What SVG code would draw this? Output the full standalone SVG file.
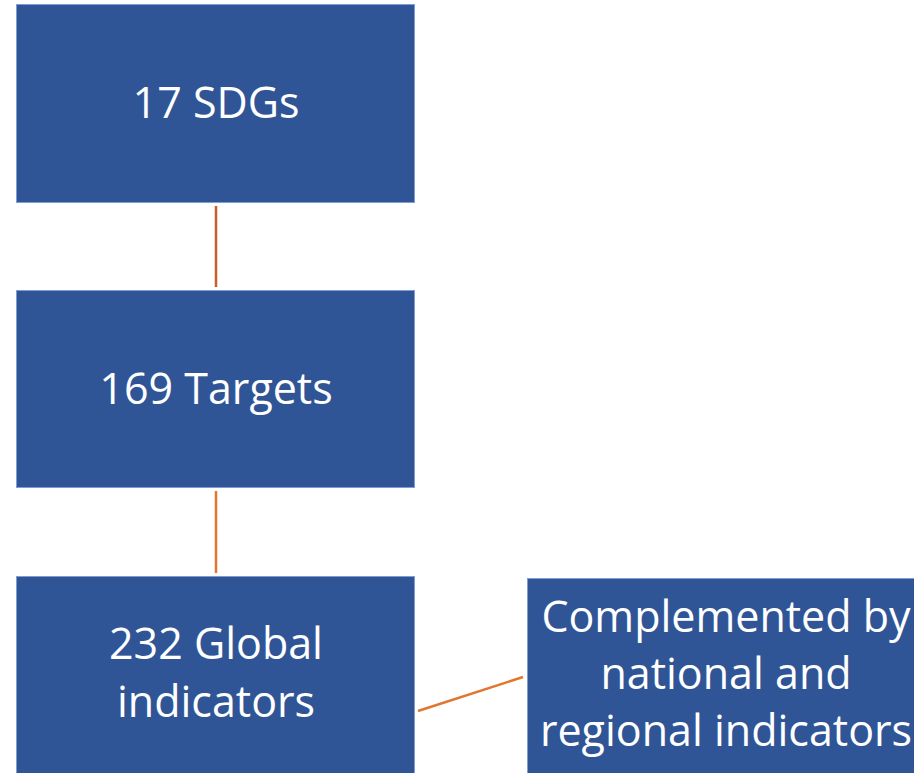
<svg xmlns="http://www.w3.org/2000/svg" width="914" height="773" viewBox="0 0 914 773">
<style>
.box{fill:#2F5597;stroke:#7F9CD3;stroke-width:1}
.t{font-family:"Open Sans","Liberation Sans",sans-serif;font-size:43px;fill:#FFFFFF;text-anchor:middle}
.c{stroke:#D2691E;stroke-width:2.5;fill:none}
</style>
<rect width="914" height="773" fill="#FFFFFF"/>
<g id="connectors">
<line class="c" x1="216" y1="206" x2="216" y2="287" style="stroke:#C55F27"/>
<line class="c" x1="216" y1="491" x2="216" y2="573" style="stroke:#E2762F"/>
<line class="c" x1="418" y1="711" x2="523" y2="677" style="stroke:#E2762F"/>
</g>
<g id="sdgs">
<rect class="box" x="16.5" y="4.5" width="398" height="198"/>
<text class="t" x="216" y="118">17 SDGs</text>
</g>
<g id="targets">
<rect class="box" x="16.5" y="290.5" width="398" height="197"/>
<text class="t" x="216" y="404">169 Targets</text>
</g>
<g id="global">
<rect class="box" x="16.5" y="576.5" width="398" height="200"/>
<text class="t" x="216" y="659">232 Global</text>
<text class="t" x="216" y="717">indicators</text>
</g>
<g id="complemented">
<rect class="box" x="527.5" y="578.5" width="400" height="200"/>
<text class="t" x="726" y="632">Complemented by</text>
<text class="t" x="726" y="689">national and</text>
<text class="t" x="726" y="746">regional indicators</text>
</g>
</svg>
